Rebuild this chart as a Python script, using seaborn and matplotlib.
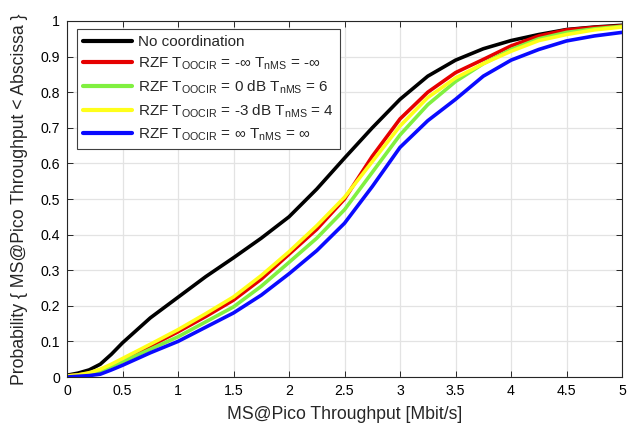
import numpy as np
import pandas as pd
import matplotlib
matplotlib.use("Agg")
import matplotlib.pyplot as plt
import seaborn as sns

# ---- data ----
x_vals = [0.0, 0.1, 0.2, 0.3, 0.4, 0.5, 0.75, 1.0, 1.25, 1.5, 1.75, 2.0, 2.25,
          2.5, 2.75, 3.0, 3.25, 3.5, 3.75, 4.0, 4.25, 4.5, 4.75, 5.0]
cdf_no_coord = [0.005, 0.011, 0.020, 0.036, 0.064, 0.096, 0.166, 0.224, 0.282, 0.335,
                0.390, 0.450, 0.528, 0.615, 0.700, 0.780, 0.845, 0.890, 0.922, 0.945,
                0.962, 0.976, 0.983, 0.988]
cdf_rzf_minf = [0.003, 0.006, 0.011, 0.020, 0.033, 0.048, 0.087, 0.127, 0.170, 0.216,
                0.275, 0.345, 0.415, 0.500, 0.620, 0.725, 0.800, 0.855, 0.892, 0.930,
                0.958, 0.975, 0.982, 0.986]
cdf_rzf_0db = [0.003, 0.005, 0.010, 0.017, 0.030, 0.043, 0.078, 0.113, 0.155, 0.197,
               0.255, 0.322, 0.390, 0.470, 0.575, 0.680, 0.765, 0.830, 0.880, 0.920,
               0.950, 0.968, 0.978, 0.985]
cdf_rzf_m3db = [0.003, 0.006, 0.012, 0.022, 0.036, 0.052, 0.092, 0.133, 0.178, 0.225,
                0.285, 0.352, 0.425, 0.505, 0.605, 0.705, 0.785, 0.840, 0.880, 0.915,
                0.945, 0.962, 0.975, 0.983]
cdf_rzf_inf = [0.000, 0.002, 0.004, 0.008, 0.020, 0.033, 0.068, 0.100, 0.140, 0.180,
               0.230, 0.290, 0.355, 0.432, 0.535, 0.645, 0.720, 0.780, 0.845, 0.890,
               0.920, 0.944, 0.958, 0.968]

series_labels = [
    "No coordination",
    r"RZF T$_\mathregular{OOCIR}$ = -∞ T$_\mathregular{nMS}$ = -∞",
    r"RZF T$_\mathregular{OOCIR}$ = 0 dB T$_\mathregular{nMS}$ = 6",
    r"RZF T$_\mathregular{OOCIR}$ = -3 dB T$_\mathregular{nMS}$ = 4",
    r"RZF T$_\mathregular{OOCIR}$ = ∞ T$_\mathregular{nMS}$ = ∞",
]
series_values = [cdf_no_coord, cdf_rzf_minf, cdf_rzf_0db, cdf_rzf_m3db, cdf_rzf_inf]
series_colors = ["#000000", "#e60000", "#80f040", "#ffff1a", "#0a0aff"]

x_ticks = [0, 0.5, 1, 1.5, 2, 2.5, 3, 3.5, 4, 4.5, 5]
x_tick_labels = ["0", "0.5", "1", "1.5", "2", "2.5", "3", "3.5", "4", "4.5", "5"]
y_ticks = [0, 0.1, 0.2, 0.3, 0.4, 0.5, 0.6, 0.7, 0.8, 0.9, 1]
y_tick_labels = ["0", "0.1", "0.2", "0.3", "0.4", "0.5", "0.6", "0.7", "0.8", "0.9", "1"]

x_label = "MS@Pico Throughput [Mbit/s]"
y_label = "Probability { MS@Pico Throughput < Abscissa }"

# ---- long-form table ----
rows = []
for lab, vals in zip(series_labels, series_values):
    for xv, yv in zip(x_vals, vals):
        rows.append({"x": xv, "y": yv, "series": lab})
df = pd.DataFrame(rows)

# ---- style ----
sns.set_style("whitegrid")
plt.rcParams["font.family"] = ["Liberation Sans", "DejaVu Sans"]
plt.rcParams["mathtext.fontset"] = "custom"
plt.rcParams["mathtext.rm"] = "Liberation Sans"
plt.rcParams["mathtext.default"] = "regular"

fig = plt.figure(figsize=(6.28, 4.25), dpi=100)
ax = fig.add_axes([0.1067, 0.1129, 0.8838, 0.8377])

sns.lineplot(data=df, x="x", y="y", hue="series", hue_order=series_labels,
             palette=dict(zip(series_labels, series_colors)),
             linewidth=2.6, ax=ax, legend=True, estimator=None, sort=True)

ax.set_xlim(0, 5)
ax.set_ylim(0, 1)
ax.set_xticks(x_ticks)
ax.set_xticklabels(x_tick_labels)
ax.set_yticks(y_ticks)
ax.set_yticklabels(y_tick_labels)
ax.set_xlabel(x_label, fontsize=12.7, labelpad=6)
ax.set_ylabel(y_label, fontsize=12.7, labelpad=9)

ax.grid(True, color="#e3e3e3", linewidth=0.9)
for s in ax.spines.values():
    s.set_visible(True)
    s.set_color("#262626")
    s.set_linewidth(0.8)
ax.tick_params(axis="both", direction="in", length=4, width=0.7,
               colors="#262626", labelsize=10.2, top=True, right=True,
               bottom=True, left=True, pad=5)
for lbl in ax.get_xticklabels() + ax.get_yticklabels():
    lbl.set_color("#000000")

handles, labels = ax.get_legend_handles_labels()
leg = ax.legend(handles, labels, loc="upper left",
                bbox_to_anchor=(0.0185, 0.977), borderaxespad=0,
                fontsize=11, frameon=True, fancybox=False, framealpha=1,
                edgecolor="#404040", handlelength=3.2, handletextpad=0.35,
                borderpad=0.4, labelspacing=0.42)
leg.get_frame().set_linewidth(0.8)
for line in leg.get_lines():
    line.set_linewidth(3.0)

fig.savefig("out.png", dpi=100)
